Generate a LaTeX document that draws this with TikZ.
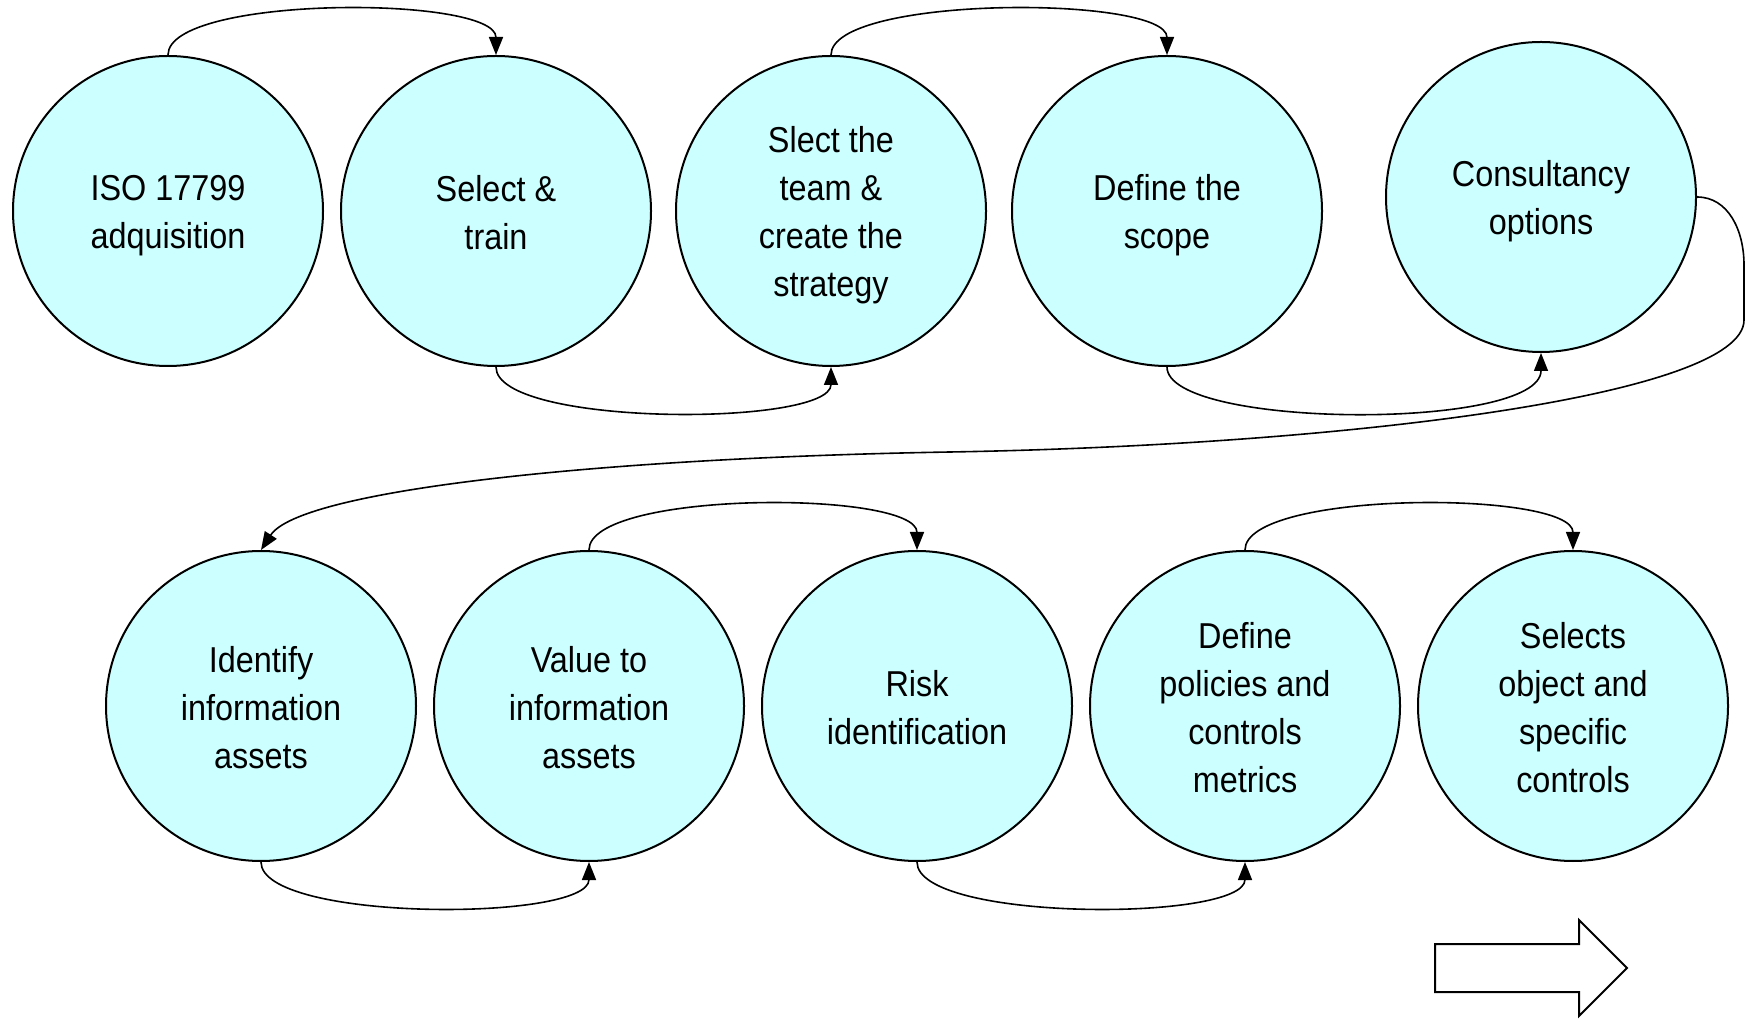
\documentclass[tikz,border=0pt]{standalone}
\usepackage{fontspec}
\setmainfont{Liberation Sans}[FakeStretch=0.9]
\usetikzlibrary{arrows.meta}
\definecolor{stagefill}{RGB}{204,255,255}
% label with a fixed line box, so every label sits the same way in its circle
\newcommand{\stagelabel}[1]{\rule{0pt}{17pt}#1\rule[-2.5pt]{0pt}{2.5pt}}
\begin{document}
\begin{tikzpicture}[x=0.5pt,y=-0.5pt,
  stage/.style={circle, draw=black, line width=1pt, fill=stagefill,
    minimum size=155pt, inner sep=0pt, align=center,
    font=\fontsize{18pt}{24pt}\selectfont},
  link/.style={line width=0.8pt, -{Triangle[length=9pt,width=7pt]}},
  blockarrow/.style={draw=black, line width=1pt, fill=white, line join=miter}]
\useasboundingbox (0,0) rectangle (1750,1020);

% first row of stages
\node[stage] (s1) at (168,211) {\stagelabel{ISO 17799\\adquisition}};
\node[stage] (s2) at (496,211) {\stagelabel{Select \&\\train}};
\node[stage] (s3) at (831,211) {\stagelabel{Slect the\\team \&\\create the\\strategy}};
\node[stage] (s4) at (1167,211) {\stagelabel{Define the\\scope}};
\node[stage] (s5) at (1541,197) {\stagelabel{Consultancy\\options}};

% second row of stages
\node[stage] (s6) at (261,706) {\stagelabel{Identify\\information\\assets}};
\node[stage] (s7) at (589,706) {\stagelabel{Value to\\information\\assets}};
\node[stage] (s8) at (917,706) {\stagelabel{Risk\\identification}};
\node[stage] (s9) at (1245,706) {\stagelabel{Define\\policies and\\controls\\metrics}};
\node[stage] (s10) at (1573,706) {\stagelabel{Selects\\object and\\specific\\controls}};

% arcs over and under the first row
\draw[link] (s1.north) .. controls +(0,-60) and +(0,-60) .. (s2.north);
\draw[link] (s2.south) .. controls +(0,60) and +(0,60) .. (s3.south);
\draw[link] (s3.north) .. controls +(0,-60) and +(0,-60) .. (s4.north);
\draw[link] (s4.south) .. controls +(0,62) and +(0,78) .. (s5.south);

% return path from the end of the first row to the start of the second
\draw[link] (s5.east) .. controls (1728,197) and (1744,230) .. (1744,265)
  -- (1744,320) .. controls (1744,395) and (1350,445) .. (950,452)
  .. controls (600,458) and (300,490) .. (s6.north);

% arcs over and under the second row
\draw[link] (s6.south) .. controls +(0,60) and +(0,60) .. (s7.south);
\draw[link] (s7.north) .. controls +(0,-60) and +(0,-60) .. (s8.north);
\draw[link] (s8.south) .. controls +(0,60) and +(0,60) .. (s9.south);
\draw[link] (s9.north) .. controls +(0,-60) and +(0,-60) .. (s10.north);

% outlined direction arrow
\draw[blockarrow] (1435,944) -- (1579,944) -- (1579,920) -- (1627,968)
  -- (1579,1016) -- (1579,992) -- (1435,992) -- cycle;
\end{tikzpicture}
\end{document}
